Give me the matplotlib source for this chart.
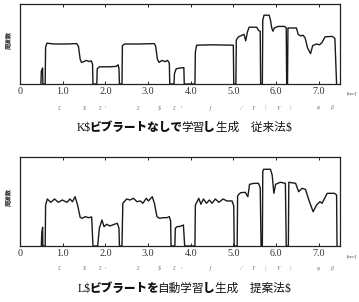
import matplotlib
matplotlib.use("Agg")
import matplotlib.pyplot as plt

# ---------------- data (time [sec], F0 in arbitrary units, 0 = unvoiced) -------------
t_conv = [0.49, 0.50, 0.53, 0.535,
          0.59, 0.60, 0.63, 0.80, 1.10, 1.33, 1.37, 1.41, 1.44, 1.50, 1.55, 1.62, 1.67, 1.70, 1.71,
          1.80, 1.81, 1.86, 2.10, 2.25, 2.30, 2.32, 2.33,
          2.39, 2.40, 2.45, 2.80, 3.15, 3.18, 3.22, 3.26, 3.33, 3.40, 3.46, 3.50, 3.51,
          3.61, 3.62, 3.66, 3.75, 3.84, 3.85,
          4.10, 4.11, 4.14, 4.50, 5.00, 5.01,
          5.06, 5.07, 5.12, 5.25, 5.29, 5.33, 5.37, 5.55, 5.59, 5.63, 5.64,
          5.68, 5.69, 5.72, 5.84, 5.87, 5.90, 5.93, 5.96, 6.05, 6.20, 6.24, 6.25,
          6.27, 6.28, 6.48, 6.52, 6.58, 6.63, 6.68, 6.74, 6.81, 6.86, 6.95, 7.02, 7.08, 7.15, 7.32, 7.38, 7.42]
f0_conv = [0, 16, 20, 0,
           0, 46, 51, 50, 50, 50.5, 47, 31, 27, 28, 29.5, 28, 29, 25, 0,
           0, 19, 21.5, 21.5, 22, 24, 19, 0,
           0, 48, 50, 50, 50.5, 47, 31, 27, 29.5, 28, 29.5, 26, 0,
           0, 13, 19, 20, 20.5, 0,
           0, 40, 48.5, 49, 48.5, 0,
           0, 55, 59, 62, 54, 65, 71, 71, 67, 66, 0,
           0, 80, 86, 86, 80, 70, 66, 70, 72, 72, 70, 0,
           0, 70, 70, 62, 60, 61, 58, 45, 38, 48, 50, 49, 52, 59, 59.5, 57, 0]

t_prop = [0.50, 0.51, 0.53, 0.535,
          0.59, 0.60, 0.64, 0.72, 0.81, 0.90, 0.99, 1.10, 1.17, 1.23, 1.29, 1.35, 1.41, 1.46, 1.53, 1.60, 1.68, 1.71,
          1.82, 1.86, 1.92, 1.97, 2.03, 2.11, 2.21, 2.28, 2.32, 2.33,
          2.39, 2.41, 2.50, 2.58, 2.66, 2.74, 2.82, 2.88, 2.96, 3.01, 3.10, 3.15, 3.21, 3.27, 3.35, 3.44, 3.50, 3.53, 3.54,
          3.63, 3.64, 3.68, 3.75, 3.83, 3.86,
          4.10, 4.11, 4.19, 4.24, 4.30, 4.37, 4.44, 4.50, 4.58, 4.66, 4.76, 4.85, 4.97, 5.01, 5.02,
          5.09, 5.10, 5.13, 5.17, 5.28, 5.34, 5.38, 5.48, 5.59, 5.63, 5.65,
          5.68, 5.69, 5.71, 5.87, 5.91, 5.95, 5.99, 6.10, 6.22, 6.24,
          6.29, 6.30, 6.46, 6.53, 6.61, 6.69, 6.77, 6.87, 6.95, 7.03, 7.08, 7.14, 7.20, 7.37, 7.42, 7.43]
f0_prop = [0, 14, 21, 0,
           0, 46, 52.8, 49.1, 52.8, 49.1, 51.7, 49.1, 52.8, 49.8, 55.4, 46, 32.2, 31.1, 33, 31.8, 32.6, 0,
           0, 19.9, 29.2, 21.7, 24.4, 22.5, 24.4, 25.5, 20, 0,
           0, 48, 52.8, 51.7, 53.6, 49.8, 50.6, 48, 53.6, 50.6, 55.4, 48, 33, 31.1, 31.8, 31.8, 33, 28, 0,
           0, 19.9, 21.7, 22, 23.6, 0,
           0, 46, 53.6, 46.9, 52.8, 48, 51.7, 48, 52.8, 49.1, 52.8, 50.6, 50.6, 45, 0,
           0, 56, 58.1, 59.9, 60.3, 55.4, 69.3, 70.4, 70.4, 65.5, 0,
           0, 83.5, 86.2, 86.2, 79.8, 59.2, 69.3, 71.6, 70.4, 0,
           0, 71.6, 70.4, 61, 64.8, 63.7, 51.7, 38.5, 46, 49.8, 48, 53.6, 59.2, 59.2, 57.3, 0]

x_ticks = [0, 1, 2, 3, 4, 5, 6, 7]
x_tick_labels = ["0", "1.0", "2.0", "3.0", "4.0", "5.0", "6.0", "7.0"]

phon_t = [0.92, 1.51, 1.88, 2.00, 2.78, 3.27, 3.62, 3.78, 4.44, 5.16, 5.47, 5.75, 6.06, 6.34, 7.00, 7.30]
phon_s = ["£", "$", "£", "ʳ", "£", "$", "£", "ʳ", "ƒ", "⁄", "Y", "|", "Y", "|", "φ", "β"]

title1 = [("K$", "serif", "normal"), ("ビブラートなしで", "cjk", "heavy"), ("学習", "cjk", "normal"),
          ("し", "cjk", "heavy"), ("生成\u3000従来法", "cjk", "normal"), ("$", "serif", "normal")]
title2 = [("L$", "serif", "normal"), ("ビブラートを", "cjk", "heavy"), ("自動学習", "cjk", "normal"),
          ("し", "cjk", "heavy"), ("生成\u3000提案法", "cjk", "normal"), ("$", "serif", "normal")]

ylabel_text = "周波数"
unit_text = "[sec]"

# ---------------- figure ----------------
W, H = 359, 302
fig = plt.figure(figsize=(W / 100, H / 100), dpi=100)
fig.patch.set_facecolor("white")

SERIF = ["Liberation Serif", "DejaVu Serif"]
CJK = ["Noto Sans CJK JP", "DejaVu Sans"]


def px_rect(left, top, right, bottom):
    return [left / W, 1 - bottom / H, (right - left) / W, (bottom - top) / H]


def draw_panel(rect, t, f0, phon_y):
    ax = fig.add_axes(rect)
    ax.plot(t, f0, color="#1a1a1a", lw=1.0, solid_joinstyle="round")
    ax.set_xlim(0, 7.5)
    ax.set_ylim(0, 100)
    ax.set_xticks(x_ticks)
    ax.set_xticklabels(x_tick_labels, family=SERIF, fontsize=7.3, color="#333333")
    ax.set_yticks([])
    ax.tick_params(axis="x", direction="in", length=2.5, width=0.6, top=True, pad=2.5)
    for sp in ax.spines.values():
        sp.set_linewidth(0.9)
        sp.set_color("#222222")
    ax.text(-0.034, 0.55, ylabel_text, transform=ax.transAxes, rotation=90,
            ha="center", va="center", fontsize=4.3, fontweight="heavy",
            family=CJK, color="#333333")
    ax.text(1.02, -0.09, unit_text, transform=ax.transAxes, ha="left", va="top",
            fontsize=3.8, family=SERIF, color="#444444")
    for tt, s in zip(phon_t, phon_s):
        ax.text(tt, phon_y, s, transform=ax.get_xaxis_transform(), ha="center",
                va="center", fontsize=4.3, family=SERIF, style="italic", color="#777777")
    return ax


draw_panel(px_rect(20, 4, 340, 84), t_conv, f0_conv, -0.30)
draw_panel(px_rect(20, 157, 340, 246), t_prop, f0_prop, -0.25)

fig.canvas.draw()
renderer = fig.canvas.get_renderer()

# spacing tweaks (px) applied after each title piece
piece_gap = [-1.0, -2.0, -1.0, 1.0, 0.0, 0.0]


def chained_title(pieces, cx_px, base_px):
    texts = []
    for s, kind, weight in pieces:
        fam = SERIF if kind == "serif" else CJK
        txt = fig.text(0, 1 - base_px / H, s, ha="left", va="baseline",
                       fontsize=8.4, family=fam, fontweight=weight, color="#111111")
        texts.append(txt)
    widths = [tx.get_window_extent(renderer=renderer).width + g
              for tx, g in zip(texts, piece_gap)]
    total = sum(widths)
    x = cx_px - total / 2
    for tx, w in zip(texts, widths):
        tx.set_x(x / W)
        x += w


chained_title(title1, 184, 131)
chained_title(title2, 184, 292)

fig.savefig("out.png", dpi=100, facecolor="white")
